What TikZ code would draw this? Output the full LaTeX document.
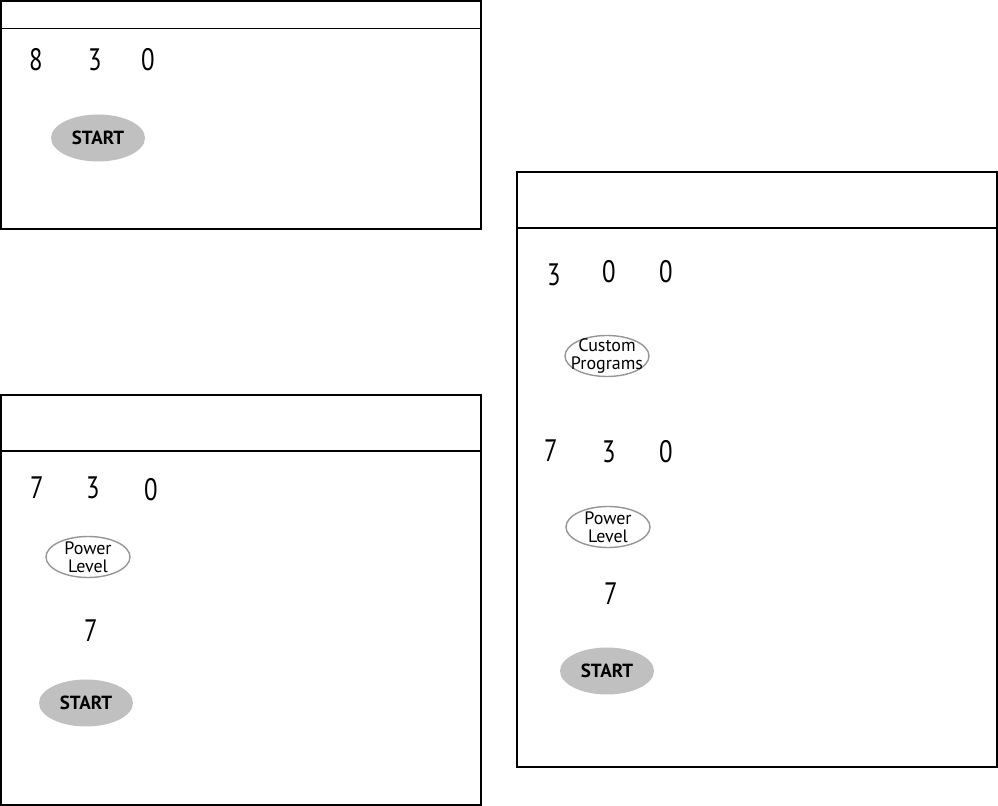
\documentclass[tikz,border=0pt]{standalone}
\usepackage{fontspec}
\setmainfont{PT Sans}
\newfontfamily\keyfont[FakeStretch=0.8]{PT Sans}
\usetikzlibrary{shapes.geometric}
\definecolor{keyGray}{RGB}{192, 192, 192}
\definecolor{rimGray}{RGB}{150, 150, 150}

\begin{document}
\begin{tikzpicture}[x=0.5pt, y=-0.5pt,
    panel/.style={line width=0.75pt},
    digit/.style={font=\keyfont\fontsize{15.5}{15.5}\selectfont},
    startkey/.style={ellipse, fill=keyGray, minimum width=47pt, minimum height=23.5pt,
      inner sep=0pt, font=\bfseries\fontsize{9.5}{9.5}\selectfont},
    padkey/.style={ellipse, draw=rimGray, line width=0.7pt, fill=white,
      minimum width=42pt, minimum height=20.5pt, inner sep=0pt},
    padtext/.style={align=center, inner sep=0pt, font=\fontsize{9}{9}\selectfont}]
  \useasboundingbox (0,0) rectangle (998,806);

  % Top left panel
  \draw[panel] (1,1) rectangle (481,229);
  \draw[panel] (1,28.5) -- (481,28.5);
  \node[digit] (a1) at (36,60) {8};
  \node[digit] (a2) at (95,60) {3};
  \node[digit] (a3) at (148,60) {0};
  \node[startkey] (aStart) at (98,138) {START};

  % Bottom left panel
  \draw[panel] (1,395) rectangle (481,805);
  \draw[panel] (1,451) -- (481,451);
  \node[digit] (b1) at (37,488) {7};
  \node[digit] (b2) at (93,488) {3};
  \node[digit] (b3) at (151,490) {0};
  \node[padkey] (bPower) at (88,557) {};
  \node[padtext] at (bPower) {Power\\Level};
  \node[digit] (b4) at (91,631) {7};
  \node[startkey] (bStart) at (86,703) {START};

  % Right panel
  \draw[panel] (517,172) rectangle (997,767);
  \draw[panel] (517,228) -- (997,228);
  \node[digit] (c1) at (554,275) {3};
  \node[digit] (c2) at (609,272) {0};
  \node[digit] (c3) at (666,272) {0};
  \node[padkey] (cCustom) at (607,356) {};
  \node[padtext] at (cCustom) {Custom\\Programs};
  \node[digit] (c4) at (551,451) {7};
  \node[digit] (c5) at (609,452) {3};
  \node[digit] (c6) at (666,452) {0};
  \node[padkey] (cPower) at (608,527) {};
  \node[padtext] at (cPower) {Power\\Level};
  \node[digit] (c7) at (611,594) {7};
  \node[startkey] (cStart) at (607,671) {START};
\end{tikzpicture}
\end{document}
